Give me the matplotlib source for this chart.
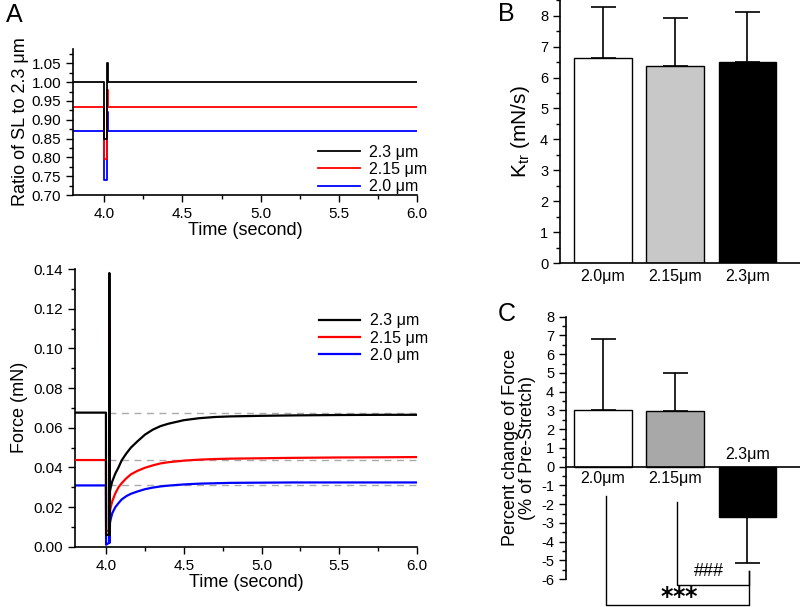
import matplotlib
matplotlib.use("Agg")
import matplotlib.pyplot as plt
from matplotlib.ticker import MultipleLocator, FormatStrFormatter
from matplotlib import font_manager

names = {f.name for f in font_manager.fontManager.ttflist}
NARROW = "Liberation Sans Narrow" if "Liberation Sans Narrow" in names else "Liberation Sans"
plt.rcParams['font.family'] = ['Liberation Sans', 'DejaVu Sans']
plt.rcParams['axes.unicode_minus'] = False

MU = "\u03bc"
# ---------------- data ----------------
sl_labels = ["2.3 " + MU + "m", "2.15 " + MU + "m", "2.0 " + MU + "m"]
sl_colors = ["black", "red", "blue"]

# Panel A top: sarcomere-length ratio traces
sl_time = [3.8, 4.0, 4.0, 4.02, 4.02, 4.021, 4.021, 6.0]
sl_black = [1.0, 1.0, 0.85, 0.85, 1.05, 1.05, 1.0, 1.0]
sl_red = [0.935, 0.935, 0.795, 0.795, 0.98, 0.98, 0.935, 0.935]
sl_blue = [0.87, 0.87, 0.74, 0.74, 0.92, 0.92, 0.87, 0.87]

# Panel A bottom: force traces
f_time = [3.8, 3.999, 4.0, 4.02, 4.021, 4.023, 4.025, 4.03, 4.04, 4.06, 4.08, 4.10,
          4.13, 4.16, 4.20, 4.25, 4.30, 4.35, 4.40, 4.50, 4.60, 4.70, 4.80,
          5.00, 5.20, 5.50, 5.80, 6.00]
f_black = [0.0676, 0.0676, 0.006, 0.006, 0.138, 0.006, 0.028, 0.030, 0.033, 0.037, 0.040, 0.0435,
           0.047, 0.050, 0.053, 0.0565, 0.0590, 0.0608, 0.0620, 0.0638, 0.0648, 0.0654, 0.0657,
           0.0660, 0.0662, 0.0664, 0.0665, 0.0665]
f_red = [0.0437, 0.0437, 0.008, 0.008, 0.113, 0.008, 0.018, 0.020, 0.023, 0.027, 0.030, 0.032,
         0.0345, 0.0365, 0.0382, 0.0398, 0.0410, 0.0420, 0.0426, 0.0434, 0.0439, 0.0442, 0.0444,
         0.0446, 0.0448, 0.0450, 0.0451, 0.0452]
f_blue = [0.0309, 0.0309, 0.001, 0.002, 0.088, 0.002, 0.012, 0.014, 0.017, 0.020, 0.022, 0.0238,
          0.0255, 0.0267, 0.0278, 0.0290, 0.0298, 0.0304, 0.0308, 0.0314, 0.0318, 0.0320, 0.0322,
          0.0323, 0.0324, 0.0324, 0.0324, 0.0324]
pre_levels = [0.0675, 0.0435, 0.031]

# Panel B
bar_cats = ["2.0" + MU + "m", "2.15" + MU + "m", "2.3" + MU + "m"]
ktr_mean = [6.62, 6.37, 6.52]
ktr_sd = [1.66, 1.55, 1.60]
ktr_colors = ["white", "#c8c8c8", "black"]

# Panel C
pct_mean = [3.0, 2.98, -2.7]
pct_sd = [3.8, 2.0, 2.45]
pct_colors = ["white", "#a8a8a8", "black"]

# ---------------- figure ----------------
fig = plt.figure(figsize=(8.0, 6.07), dpi=100)

def style_ticks(ax, fs=11):
    ax.tick_params(which='major', direction='out', length=5, width=1, labelsize=fs)
    ax.tick_params(which='minor', direction='out', length=3, width=1)
    for lab in ax.get_xticklabels() + ax.get_yticklabels():
        lab.set_fontfamily(NARROW)
    for s in ('top', 'right'):
        ax.spines[s].set_visible(False)
    for s in ('left', 'bottom'):
        ax.spines[s].set_linewidth(1.2)

# Panel A top
ax1 = fig.add_axes([0.09125, 0.6787, 0.43, 0.2406])
ax1.plot(sl_time, sl_blue, color='blue', lw=1.3, label=sl_labels[2])
ax1.plot(sl_time, sl_red, color='red', lw=1.3, label=sl_labels[1])
ax1.plot(sl_time, sl_black, color='black', lw=1.3, label=sl_labels[0])
ax1.set_xlim(3.8, 6.0)
ax1.set_ylim(0.70, 1.088)
ax1.xaxis.set_major_locator(MultipleLocator(0.5))
ax1.xaxis.set_minor_locator(MultipleLocator(0.25))
ax1.xaxis.set_major_formatter(FormatStrFormatter('%.1f'))
ax1.yaxis.set_major_locator(MultipleLocator(0.05))
ax1.yaxis.set_minor_locator(MultipleLocator(0.025))
ax1.yaxis.set_major_formatter(FormatStrFormatter('%.2f'))
style_ticks(ax1)
ax1.set_xlabel("Time (second)", fontsize=13, labelpad=1)
ax1.set_ylabel("Ratio of SL to 2.3 " + MU + "m", fontsize=13, labelpad=2)
h, l = ax1.get_legend_handles_labels()
ax1.legend(h[::-1], l[::-1], loc='upper left', bbox_to_anchor=(0.69, 0.40), frameon=False,
           fontsize=11.5, handlelength=2.6, labelspacing=0.15, borderpad=0, handletextpad=0.6)

# Panel A bottom
ax2 = fig.add_axes([0.09375, 0.0993, 0.4275, 0.4575])
for lvl in pre_levels:
    ax2.plot([4.02, 6.0], [lvl, lvl], color='#aaaaaa', lw=1.0, ls=(0, (5, 4)), zorder=1)
ax2.plot(f_time, f_blue, color='blue', lw=1.6, label=sl_labels[2], zorder=2)
ax2.plot(f_time, f_red, color='red', lw=1.6, label=sl_labels[1], zorder=3)
ax2.plot(f_time, f_black, color='black', lw=1.6, label=sl_labels[0], zorder=4)
ax2.set_xlim(3.8, 6.0)
ax2.set_ylim(0, 0.14)
ax2.xaxis.set_major_locator(MultipleLocator(0.5))
ax2.xaxis.set_minor_locator(MultipleLocator(0.25))
ax2.xaxis.set_major_formatter(FormatStrFormatter('%.1f'))
ax2.yaxis.set_major_locator(MultipleLocator(0.02))
ax2.yaxis.set_minor_locator(MultipleLocator(0.01))
ax2.yaxis.set_major_formatter(FormatStrFormatter('%.2f'))
style_ticks(ax2)
ax2.set_xlabel("Time (second)", fontsize=13, labelpad=1)
ax2.set_ylabel("Force (mN)", fontsize=13, labelpad=4)
h, l = ax2.get_legend_handles_labels()
ax2.legend(h[::-1], l[::-1], loc='upper left', bbox_to_anchor=(0.69, 0.87), frameon=False,
           fontsize=11.5, handlelength=2.6, labelspacing=0.15, borderpad=0, handletextpad=0.6)

# Panel B
xpos = [0, 1, 2]
ax3 = fig.add_axes([0.70, 0.5667, 0.30, 0.4333])
ax3.bar(xpos, ktr_mean, width=0.8, color=ktr_colors, edgecolor='black', lw=1.0, zorder=2)
ax3.errorbar(xpos, ktr_mean, yerr=[[0, 0, 0], ktr_sd], fmt='none', ecolor='black',
             elinewidth=1.2, capsize=9, capthick=1.2, zorder=1)
ax3.set_xlim(-0.595, 2.727)
ax3.set_ylim(0, 8.51)
ax3.yaxis.set_major_locator(MultipleLocator(1))
ax3.yaxis.set_minor_locator(MultipleLocator(0.5))
ax3.set_xticks(xpos)
ax3.set_xticklabels(bar_cats)
style_ticks(ax3, fs=10.5)
ax3.tick_params(axis='x', length=0, labelsize=11.5, pad=4)
ax3.set_ylabel("K$_{\\mathregular{tr}}$ (mN/s)", fontsize=15, labelpad=6)

# Panel C
ax4 = fig.add_axes([0.7075, 0.0458, 0.2925, 0.4325])
ax4.bar(xpos, pct_mean, width=0.8, color=pct_colors, edgecolor='black', lw=1.0, zorder=2)
ax4.errorbar(xpos, pct_mean, yerr=[[0, 0, pct_sd[2]], [pct_sd[0], pct_sd[1], 0]], fmt='none',
             ecolor='black', elinewidth=1.2, capsize=9, capthick=1.2, zorder=1)
ax4.set_xlim(-0.512, 2.727)
ax4.set_ylim(-6, 8)
ax4.yaxis.set_major_locator(MultipleLocator(1))
ax4.yaxis.set_minor_locator(MultipleLocator(0.5))
ax4.spines['bottom'].set_position(('data', 0))
ax4.set_xticks([])
style_ticks(ax4, fs=10.5)
ax4.spines['bottom'].set_zorder(3)
for i, (cat, val) in enumerate(zip(bar_cats, pct_mean)):
    if val >= 0:
        ax4.text(i, -0.25, cat, ha='center', va='top', fontsize=11.5, family=NARROW)
    else:
        ax4.text(i, 0.25, cat, ha='center', va='bottom', fontsize=11.5, family=NARROW)
ax4.set_ylabel("Percent change of Force\n(% of Pre-Stretch)", fontsize=13, labelpad=4,
               linespacing=1.0)
# significance brackets
ax4.plot([0.04, 0.04, 2.02, 2.02], [-1.55, -7.37, -7.37, -5.55], color='black', lw=1.0,
         clip_on=False)
ax4.plot([1.02, 1.02, 2.02, 2.02], [-1.87, -6.31, -6.31, -5.55], color='black', lw=1.0,
         clip_on=False)
ax4.text(1.47, -6.05, "###", ha='center', va='bottom', fontsize=13, family=NARROW)
ax4.text(1.05, -7.2, r"$\mathbf{{*}{*}{*}}$", ha='center', va='baseline', fontsize=17)

# Panel letters
fig.text(0.008, 0.995, "A", fontsize=18, va='top', ha='left')
fig.text(0.622, 0.997, "B", fontsize=18, va='top', ha='left')
fig.text(0.622, 0.503, "C", fontsize=18, va='top', ha='left')

fig.savefig("out.png", dpi=100)
